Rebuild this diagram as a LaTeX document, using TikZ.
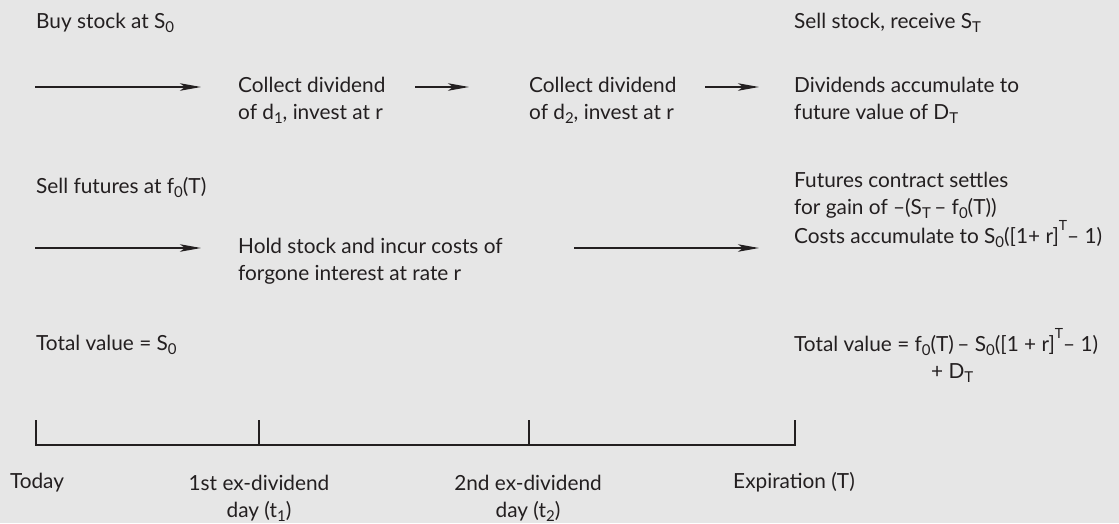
\documentclass[tikz,border=0pt]{standalone}
\usepackage{fontspec}
\setmainfont{Lato}
\usetikzlibrary{arrows.meta}
\definecolor{bg}{HTML}{E6E6E6}
\definecolor{ink}{HTML}{231F20}
\newcommand{\sbs}[1]{\raisebox{-0.22em}{\fontsize{15}{15}\selectfont #1}}
\newcommand{\sps}[1]{\raisebox{0.62em}{\fontsize{14}{14}\selectfont #1}}
\newcommand{\dsh}{\,\textendash\ }
\begin{document}
\begin{tikzpicture}[x=1pt,y=-1pt,
  lbl/.style={inner sep=0pt, anchor=base west, align=left, text=ink,
    font=\fontsize{20.8}{27}\selectfont},
  clbl/.style={lbl, anchor=base, align=center},
  flow/.style={draw=ink, line width=1.3pt, -{Stealth[length=21pt,width=7.5pt,inset=5pt]}},
  axis/.style={draw=ink, line width=1.1pt}]
\fill[bg] (0,0) rectangle (1119,523);
\useasboundingbox (0,0) rectangle (1119,523);
% row 1 (multi-line nodes are placed by the baseline of their last line)
\node[lbl] (buy) at (36,28) {Buy stock at S\sbs{0}};
\node[lbl] (col1) at (238,119) {Collect dividend\\of d\sbs{1}, invest at r};
\node[lbl] (col2) at (529,119) {Collect dividend\\of d\sbs{2}, invest at r};
\node[lbl] (sell) at (794,28) {Sell stock, receive S\sbs{T}};
\node[lbl] (divs) at (794,119) {Dividends accumulate to\\future value of D\sbs{T}};
\coordinate (a1s) at (35,87);  \coordinate (a1e) at (201,87);
\coordinate (a2s) at (415,87); \coordinate (a2e) at (469,87);
\coordinate (a3s) at (705,87); \coordinate (a3e) at (759,87);
\draw[flow] (a1s) -- (a1e);
\draw[flow] (a2s) -- (a2e);
\draw[flow] (a3s) -- (a3e);
% row 2
\node[lbl] (fut) at (36,193) {Sell futures at f\sbs{0}(T)};
\node[lbl] (hold) at (238,280) {Hold stock and incur costs of\\forgone interest at rate r};
\node[lbl] (settle) at (794,243) {Futures contract settles\\for gain of \textendash(S\sbs{T}\dsh f\sbs{0}(T))\\Costs accumulate to S\sbs{0}([1+ r]\sps{T}\textendash\ 1)};
\coordinate (b1s) at (35,248);  \coordinate (b1e) at (201,248);
\coordinate (b2s) at (574,248); \coordinate (b2e) at (759,248);
\draw[flow] (b1s) -- (b1e);
\draw[flow] (b2s) -- (b2e);
% row 3
\node[lbl] (tot0) at (36,350) {Total value = S\sbs{0}};
\node[lbl] (totT) at (794,378) {Total value = f\sbs{0}(T)\dsh S\sbs{0}([1 + r]\sps{T}\textendash\ 1)\\\hspace*{137pt}+ D\sbs{T}};
% timeline
\coordinate (t0) at (36,445);  \coordinate (t0u) at (36,420);
\coordinate (t1) at (259,445); \coordinate (t1u) at (259,420);
\coordinate (t2) at (529,445); \coordinate (t2u) at (529,420);
\coordinate (t3) at (795,445); \coordinate (t3u) at (795,420);
\draw[axis] (t0u) -- (t0) -- (t3) -- (t3u);
\draw[axis] (t1u) -- (t1);
\draw[axis] (t2u) -- (t2);
\node[clbl] (today) at (37,488) {Today};
\node[clbl] (ex1) at (259,517) {1st ex-dividend\\day (t\sbs{1})};
\node[clbl] (ex2) at (528,517) {2nd ex-dividend\\day (t\sbs{2})};
\node[clbl] (expi) at (794,488) {Expiration (T)};
\end{tikzpicture}
\end{document}
